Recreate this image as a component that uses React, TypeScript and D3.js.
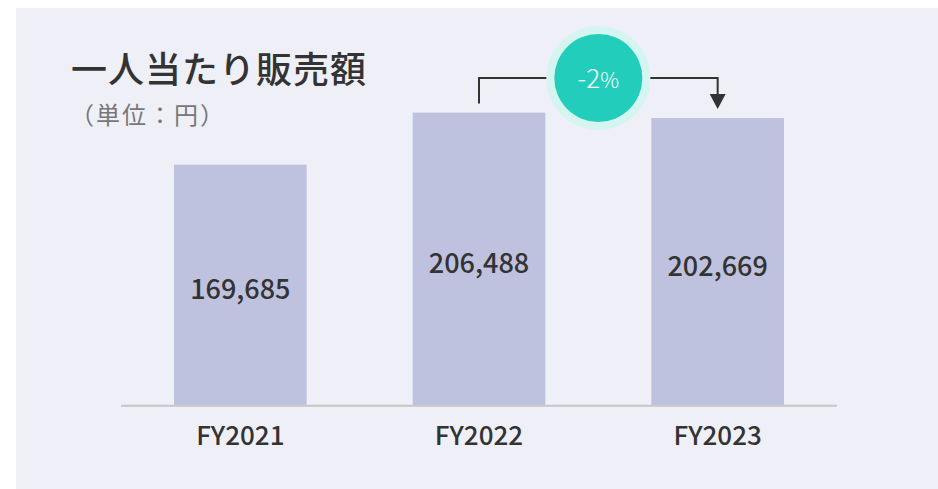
import React from "react";
import * as d3 from "d3";

const categories = ["FY2021", "FY2022", "FY2023"];
const values = [169685, 206488, 202669];
const changeValue = "-2";
const changeUnit = "%";
const title = "一人当たり販売額";
const unitLabel = "（単位：円）";

const W = 938;
const H = 489;
const FONT = "'Noto Sans CJK JP', 'Noto Sans', sans-serif";

export default function App() {
  const x = d3.scaleBand<string>().domain(categories).range([121, 837]).paddingInner(0.444).paddingOuter(0.222);
  const y = d3.scaleLinear().domain([0, 220000]).range([405, 405 - 0.001416 * 220000]);
  const fmt = d3.format(",");

  const c2 = (x(categories[1]) as number) + x.bandwidth() / 2;
  const c3 = (x(categories[2]) as number) + x.bandwidth() / 2;
  const top2 = y(values[1]);
  const top3 = y(values[2]);
  const cx = (c2 + c3) / 2;
  const cy = 78;

  return (
    <svg width={W} height={H} style={{ position: "absolute", left: 0, top: 0 }} fontFamily={FONT}>
      <rect x={16} y={8} width={W - 16} height={H - 8} fill="#EFEFF7" />
      <text x={71} y={83} fontSize={36} letterSpacing={1} fill="#333333" fontWeight={500}>{title}</text>
      <text x={70} y={124} fontSize={24} letterSpacing={2} fill="#777777">{unitLabel}</text>

      {categories.map((c, i) => {
        const bx = x(c) as number;
        const top = y(values[i]);
        const mid = (top + y(0)) / 2;
        return (
          <g key={c}>
            <rect x={bx} y={top} width={x.bandwidth()} height={y(0) - top} fill="#BFC2DF" />
            <text x={bx + x.bandwidth() / 2} y={mid + 14} textAnchor="middle" fontSize={27} fill="#333333" fontWeight={500}>{fmt(values[i])}</text>
            <text x={bx + x.bandwidth() / 2} y={445} textAnchor="middle" fontSize={26} fill="#333333" fontWeight={500}>{c}</text>
          </g>
        );
      })}
      <line x1={121} x2={837} y1={405.8} y2={405.8} stroke="#C6C6C9" strokeWidth={2} />

      <path d={`M${c2},${top2 - 9} V${cy} H${c3} V${top3 - 22}`} fill="none" stroke="#333333" strokeWidth={2} />
      <path d={`M${c3 - 8},${top3 - 24} L${c3 + 8},${top3 - 24} L${c3},${top3 - 9} Z`} fill="#333333" />
      <circle cx={cx} cy={cy} r={52} fill="#D4F5F0" />
      <circle cx={cx} cy={cy} r={44} fill="#22CEBB" />
      <text x={cx} y={cy + 10} textAnchor="middle" fill="#FFFFFF" fontWeight={300}>
        <tspan fontSize={26}>{changeValue}</tspan>
        <tspan fontSize={21}>{changeUnit}</tspan>
      </text>
    </svg>
  );
}
